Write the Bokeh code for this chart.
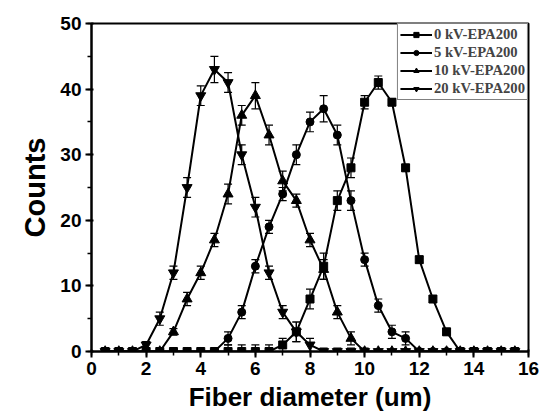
from bokeh.plotting import figure
from bokeh.models import Range1d, ColumnDataSource, Whisker, TeeHead, Legend, LegendItem, FixedTicker
from bokeh.embed import file_html
from bokeh.resources import INLINE

diam = [0.5 * i for i in range(1, 32)]  # 0.5 .. 15.5

kv0 = [0, 0, 0, 0, 0, 0, 0, 0, 0, 0, 0, 0, 0, 1, 3, 8, 13, 23, 28, 38, 41, 38, 28, 14, 8, 3, 0, 0, 0, 0, 0]
kv0_err = [0, 0, 0, 0, 0, 0, 0, 0, 0, 1, 1, 1, 1, 1, 1.5, 1.5, 2, 1.5, 1.5, 1, 1, 0.5, 0.5, 0.5, 0.5, 0.5, 0, 0, 0, 0, 0]
kv5 = [0, 0, 0, 0, 0, 0, 0, 0, 0, 2, 6, 13, 19, 24, 30, 35, 37, 33, 23, 14, 7, 3, 2, 0, 0, 0, 0, 0, 0, 0, 0]
kv5_err = [0, 0, 0, 0, 0, 0, 0, 0, 0, 1, 1, 1, 1, 1, 1.5, 1.5, 2, 1.5, 1.5, 1, 1, 1, 1, 0, 0, 0, 0, 0, 0, 0, 0]
kv10 = [0, 0, 0, 0, 0, 3, 8, 12, 17, 24, 36, 39, 33, 26, 23, 17, 12.5, 6, 2, 0, 0, 0, 0, 0, 0, 0, 0, 0, 0, 0, 0]
kv10_err = [0, 0, 0, 0, 0, 0.5, 1, 1, 1, 1.5, 1.5, 2, 1.5, 1.5, 1, 1, 1.5, 1, 1, 0.5, 0, 0, 0, 0, 0, 0, 0, 0, 0, 0, 0]
kv20 = [0, 0, 0, 1, 5, 12, 25, 39, 43, 41, 30, 22, 12, 6, 3, 1, 0, 0, 0, 0, 0, 0, 0, 0, 0, 0, 0, 0, 0, 0, 0]
kv20_err = [0, 0, 0, 0.5, 1, 1, 1.5, 1.5, 2, 1.5, 1.5, 1.5, 1, 1, 1.5, 1, 0.5, 0.5, 0.5, 0, 0, 0, 0, 0, 0, 0, 0, 0, 0, 0, 0]

labels = ["0 kV-EPA200", "5 kV-EPA200", "10 kV-EPA200", "20 kV-EPA200"]
markers = ["square", "circle", "triangle", "inverted_triangle"]
msizes = [8, 8, 10, 10]
series = [(kv0, kv0_err), (kv5, kv5_err), (kv10, kv10_err), (kv20, kv20_err)]

p = figure(width=542, height=415, output_backend="svg", toolbar_location=None,
           x_range=Range1d(0, 16), y_range=Range1d(0, 50),
           min_border_left=91, min_border_right=14, min_border_top=23, min_border_bottom=64)
p.background_fill_color = "white"
p.border_fill_color = "white"
p.grid.visible = False
p.outline_line_color = "black"
p.outline_line_width = 2

items = []
for (vals, errs), lab, mk, ms in zip(series, labels, markers, msizes):
    src = ColumnDataSource(dict(x=diam, y=vals,
                                lo=[v - e for v, e in zip(vals, errs)],
                                hi=[v + e for v, e in zip(vals, errs)]))
    w = Whisker(source=src, base="x", upper="hi", lower="lo", line_color="black", line_width=1.2,
                upper_head=TeeHead(size=8, line_color="black", line_width=1.2),
                lower_head=TeeHead(size=8, line_color="black", line_width=1.2))
    p.add_layout(w)
    r1 = p.line("x", "y", source=src, line_color="black", line_width=2)
    r2 = p.scatter("x", "y", source=src, marker=mk, size=ms, fill_color="black", line_color="black")
    items.append(LegendItem(label=lab, renderers=[r1, r2]))

legend = Legend(items=items, location="top_right", label_text_font="Liberation Serif",
                label_text_font_style="bold", label_text_font_size="11pt",
                label_height=13, glyph_height=13, glyph_width=32, spacing=1,
                padding=2, margin=0, border_line_color="black", border_line_width=1.5,
                label_standoff=2, background_fill_alpha=1)
p.add_layout(legend)

p.xaxis.ticker = FixedTicker(ticks=list(range(0, 17, 2)), minor_ticks=list(range(0, 17)))
p.yaxis.ticker = FixedTicker(ticks=list(range(0, 51, 10)), minor_ticks=list(range(0, 51, 5)))
for ax in (p.xaxis, p.yaxis):
    ax.axis_line_width = 2
    ax.major_tick_line_width = 2
    ax.minor_tick_line_width = 1.5
    ax.major_tick_out = 6
    ax.major_tick_in = 2
    ax.minor_tick_out = 4
    ax.minor_tick_in = 0
    ax.major_label_text_font = "Liberation Sans"
    ax.major_label_text_font_style = "bold"
    ax.major_label_text_font_size = "19px"
    ax.major_label_text_color = "black"
    ax.axis_label_text_font = "Liberation Sans"
    ax.axis_label_text_font_style = "bold"
    ax.axis_label_text_color = "black"
p.xaxis.axis_label = "Fiber diameter (um)"
p.yaxis.axis_label = "Counts"
p.xaxis.axis_label_text_font_size = "26px"
p.yaxis.axis_label_text_font_size = "29px"
p.xaxis.major_label_standoff = 4
p.xaxis.axis_label_standoff = 4
p.yaxis.major_label_standoff = 4
p.yaxis.axis_label_standoff = 6

open("out.html", "w").write(file_html(p, INLINE))
